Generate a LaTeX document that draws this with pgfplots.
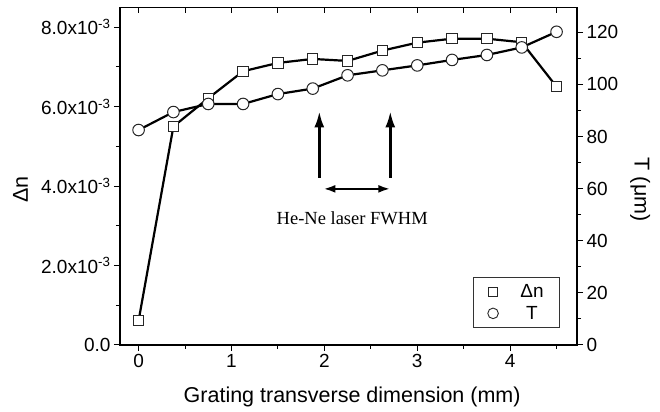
\documentclass[border=0pt]{standalone}
\usepackage{fontspec}
\setmainfont{Liberation Sans}
\newfontfamily\timesf{Liberation Serif}
\usepackage{pgfplots}
\pgfplotsset{compat=1.18}
\usetikzlibrary{arrows.meta}
\begin{document}
\begin{tikzpicture}
\pgfplotsset{
  every axis/.append style={
    width=457pt, height=337.7pt, scale only axis,
    xmin=-0.2, xmax=4.72,
    /pgf/number format/assume math mode=true,
    tick label style={font=\fontsize{19}{21}\selectfont},
    label style={font=\fontsize{21.5}{24}\selectfont},
    major tick length=6pt, minor tick length=4pt,
    every tick/.style={black, line width=1pt},
    axis line style={line width=1.3pt},
  },
}
% Left axis: Delta n
\begin{axis}[
  name=A,
  ymin=0, ymax=0.0085,
  scaled y ticks=false,
  ytick={0,0.002,0.004,0.006,0.008},
  yticklabels={0.0,{2.0x10\textsuperscript{-3}},{4.0x10\textsuperscript{-3}},{6.0x10\textsuperscript{-3}},{8.0x10\textsuperscript{-3}}},
  minor ytick={0.001,0.003,0.005,0.007},
  xtick={0,1,2,3,4},
  minor xtick={0.5,1.5,2.5,3.5,4.5},
  xtick pos=bottom, ytick pos=left,
  tick align=outside,
  xlabel={Grating transverse dimension (mm)},
  ylabel={Δn},
  xlabel style={at={(axis description cs:0.508,-0.154)}, anchor=center},
  ylabel style={at={(axis description cs:-0.218,0.46)}, anchor=center, rotate=0},
]
\addplot[black, line width=2.2pt, mark=square*, mark size=5.2pt,
  mark options={fill=white, draw=black!85, line width=1pt}]
  coordinates {
  (0,0.00061) (0.375,0.0055) (0.75,0.00621) (1.125,0.00689) (1.5,0.0071)
  (1.875,0.0072) (2.25,0.00715) (2.625,0.00741) (3.0,0.00761) (3.375,0.00771)
  (3.75,0.00771) (4.125,0.00762) (4.5,0.0065)};
\draw[line width=2.6pt, -{Latex[length=16pt,width=10pt]}] (axis cs:1.946,0.00421) -- (axis cs:1.946,0.00588);
\draw[line width=2.6pt, -{Latex[length=16pt,width=10pt]}] (axis cs:2.71,0.00421) -- (axis cs:2.71,0.00588);
\draw[line width=2.3pt, {Latex[length=12pt,width=8pt]}-{Latex[length=12pt,width=8pt]}] (axis cs:1.99,0.00393) -- (axis cs:2.71,0.00393);
\node[anchor=base, font=\timesf\fontsize{18.5}{20}\selectfont, inner sep=0pt] at (axis cs:2.30,0.00303) {He-Ne laser FWHM};
\end{axis}
% Right axis: T
\begin{axis}[
  ymin=0, ymax=129.6,
  hide x axis,
  axis y line*=right,
  ytick={0,20,40,60,80,100,120},
  minor ytick={10,30,50,70,90,110},
  tick align=outside,
  ylabel={T (μm)},
  ylabel style={at={(axis description cs:1.138,0.46)}, anchor=center, rotate=180},
  legend cell align=center,
  legend style={at={(axis description cs:0.963,0.05)}, anchor=south east,
    draw=black!80, line width=0.9pt, font=\fontsize{19}{21}\selectfont,
    inner xsep=14pt, inner ysep=5pt, row sep=3pt,
    /tikz/every odd column/.append style={column sep=20pt}},
]
\addplot[black, line width=2.2pt, mark=*, mark size=5.8pt,
  mark options={fill=white, draw=black!85, line width=1pt}, forget plot]
  coordinates {
  (0,82.5) (0.375,89.4) (0.75,92.5) (1.125,92.5) (1.5,96.3)
  (1.875,98.4) (2.25,103.5) (2.625,105.4) (3.0,107.3) (3.375,109.4)
  (3.75,111.3) (4.125,114.2) (4.5,120.2)};
\addlegendimage{only marks, mark=square*, mark size=4.5pt, mark options={fill=white, draw=black!85, line width=0.9pt}}
\addlegendentry{Δn}
\addlegendimage{only marks, mark=*, mark size=5.3pt, mark options={fill=white, draw=black!85, line width=0.9pt}}
\addlegendentry{T}
\end{axis}
% Top ticks inside
\begin{axis}[
  hide y axis,
  axis x line*=top,
  ymin=0, ymax=1,
  xtick={0,0.5,1,1.5,2,2.5,3,3.5,4,4.5},
  xticklabels={},
  tick align=inside,
]
\end{axis}
\pgfresetboundingbox
\path ([shift={(-120pt,-67pt)}]A.south west) rectangle ([shift={(83pt,7.3pt)}]A.north east);
\end{tikzpicture}
\end{document}
